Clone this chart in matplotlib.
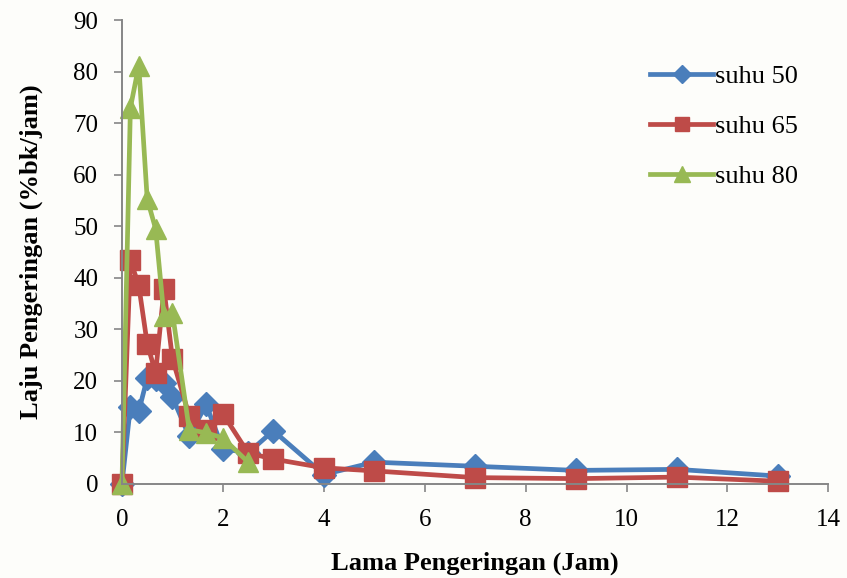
import matplotlib
matplotlib.use("Agg")
import matplotlib.pyplot as plt

# drying time (hours) and drying rate per temperature
jam_50 = [0, 0.167, 0.333, 0.5, 0.667, 0.833, 1.0, 1.333, 1.667, 2.0, 2.5, 3, 4, 5, 7, 9, 11, 13]
laju_50 = [0, 15.0, 14.1, 20.5, 20.3, 19.5, 16.8, 9.2, 15.4, 6.8, 6.0, 10.3, 1.8, 4.2, 3.4, 2.6, 2.8, 1.5]

jam_65 = [0, 0.167, 0.333, 0.5, 0.667, 0.833, 1.0, 1.333, 1.667, 2.0, 2.5, 3, 4, 5, 7, 9, 11, 13]
laju_65 = [0, 43.4, 38.5, 27.2, 21.5, 37.8, 24.3, 13.2, 10.5, 13.6, 6.0, 4.8, 3.1, 2.5, 1.2, 1.0, 1.3, 0.5]

jam_80 = [0, 0.167, 0.333, 0.5, 0.667, 0.833, 1.0, 1.333, 1.667, 2.0, 2.5]
laju_80 = [0, 73.0, 81.2, 55.3, 49.5, 32.5, 33.2, 10.5, 9.9, 8.9, 4.2]

series = [
    ("suhu 50", jam_50, laju_50, "#4A7EBB", "D", 12),
    ("suhu 65", jam_65, laju_65, "#BE4B48", "s", 14),
    ("suhu 80", jam_80, laju_80, "#98B954", "^", 15),
]

plt.rcParams["font.family"] = ["Liberation Serif", "DejaVu Serif"]

fig = plt.figure(figsize=(8.47, 5.78), dpi=100, facecolor="#FDFDFA")
ax = fig.add_axes([0.144, 0.163, 0.834, 0.802])
ax.set_facecolor("none")

for name, xs, ys, col, mk, ms in series:
    ax.plot(xs, ys, color=col, lw=3.4, marker=mk, markersize=ms,
            markeredgecolor=col, label=name, solid_joinstyle="round",
            clip_on=False)

ax.set_xlim(0, 14)
ax.set_ylim(0, 90)
ax.set_xticks(range(0, 15, 2))
ax.set_yticks(range(0, 91, 10))
ax.tick_params(labelsize=18, color="#868686", length=6, width=1.2)
ax.tick_params(axis="x", pad=12)
ax.tick_params(axis="y", pad=11)
for side in ("top", "right"):
    ax.spines[side].set_visible(False)
for side in ("left", "bottom"):
    ax.spines[side].set_color("#868686")
    ax.spines[side].set_linewidth(1.4)

ax.set_xlabel("Lama Pengeringan (Jam)", fontsize=19, fontweight="bold", labelpad=15)
ax.set_ylabel("Laju Pengeringan (%bk/jam)", fontsize=19, fontweight="bold", labelpad=22)

ax.legend(loc="upper right", bbox_to_anchor=(0.99, 0.955), frameon=False, fontsize=19,
          handlelength=2.4, handletextpad=0.05, labelspacing=1.0, markerscale=0.75)

fig.savefig("out.png", dpi=100, facecolor=fig.get_facecolor())
